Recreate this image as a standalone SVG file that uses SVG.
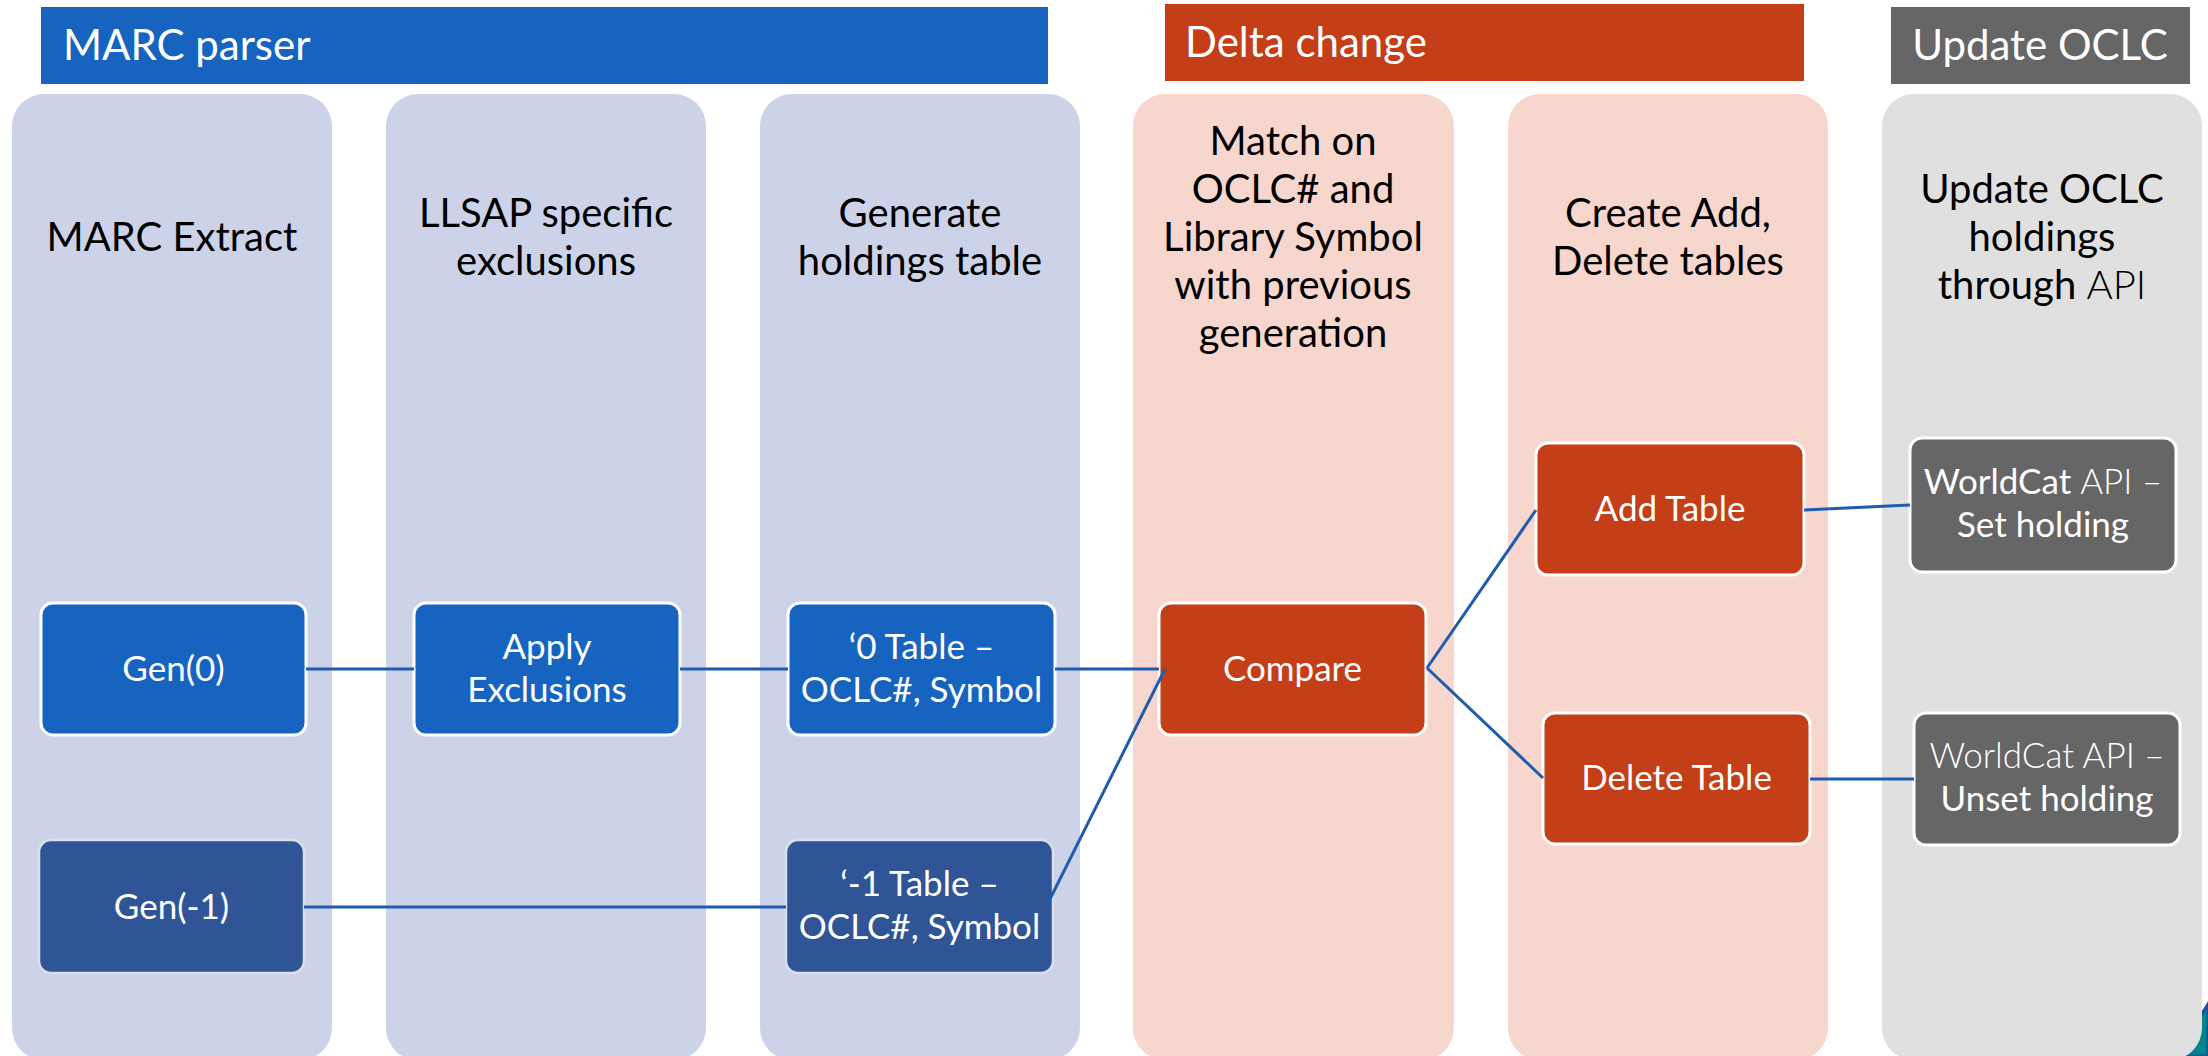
<svg xmlns="http://www.w3.org/2000/svg" width="2208" height="1056" viewBox="0 0 2208 1056">
<style>
.hdr{font-family:Lato,"Open Sans","Liberation Sans",sans-serif;font-size:42px;fill:#fff}
.ct{font-family:Lato,"Open Sans","Liberation Sans",sans-serif;font-size:40px;fill:#000;text-anchor:middle}
.nt{font-family:Lato,"Open Sans","Liberation Sans",sans-serif;font-size:35px;fill:#fff;text-anchor:middle}
.lt{font-weight:300}
.colB{fill:#CCD3E8}
.colP{fill:#F7D6CD}
.colG{fill:#E0E0E0}
.nB{fill:#1764C0;stroke:#fff;stroke-width:3}
.nD{fill:#2F5597;stroke:#DADFEC;stroke-width:2.5}
.nO{fill:#C43E17;stroke:#fff;stroke-width:3}
.nG{fill:#666666;stroke:#fff;stroke-width:3}
.cn{stroke:#1F5BAE;stroke-width:3;fill:none}
</style>
<rect width="2208" height="1056" fill="#fff"/>
<!-- decoration -->
<path d="M2208,1004 Q2194,1028 2168,1056 L2208,1056 Z" fill="#00868B" stroke="#1F4E9A" stroke-width="3"/>
<!-- header bars -->
<g id="hdr-marc"><rect x="41" y="7" width="1007" height="77" fill="#1764C0"/><text class="hdr" x="63" y="60">MARC parser</text></g>
<g id="hdr-delta"><rect x="1165" y="4" width="639" height="77" fill="#C43E17"/><text class="hdr" x="1185" y="57">Delta change</text></g>
<g id="hdr-update"><rect x="1891" y="7" width="299" height="77" fill="#666666"/><text class="hdr" x="2040" y="60" text-anchor="middle">Update OCLC</text></g>
<!-- columns -->
<g id="col1"><rect class="colB" x="12" y="94" width="320" height="966" rx="32"/><text class="ct" x="172" y="251">MARC Extract</text></g>
<g id="col2"><rect class="colB" x="386" y="94" width="320" height="966" rx="32"/><text class="ct" x="546" y="227">LLSAP specific</text><text class="ct" x="546" y="275">exclusions</text></g>
<g id="col3"><rect class="colB" x="760" y="94" width="320" height="966" rx="32"/><text class="ct" x="920" y="227">Generate</text><text class="ct" x="920" y="275">holdings table</text></g>
<g id="col4"><rect class="colP" x="1133" y="94" width="321" height="966" rx="32"/><text class="ct" x="1293" y="155">Match on</text><text class="ct" x="1293" y="203">OCLC# and</text><text class="ct" x="1293" y="251">Library Symbol</text><text class="ct" x="1293" y="299">with previous</text><text class="ct" x="1293" y="347">generation</text></g>
<g id="col5"><rect class="colP" x="1508" y="94" width="320" height="966" rx="32"/><text class="ct" x="1668" y="227">Create Add,</text><text class="ct" x="1668" y="275">Delete tables</text></g>
<g id="col6"><rect class="colG" x="1882" y="94" width="320" height="966" rx="32"/><text class="ct" x="2042" y="203">Update OCLC</text><text class="ct" x="2042" y="251">holdings</text><text class="ct" x="2042" y="299">through <tspan class="lt">API</tspan></text></g>
<!-- nodes -->
<g id="gen0"><rect class="nB" x="41" y="603" width="265" height="132" rx="12"/><text class="nt" x="173.5" y="681">Gen(0)</text></g>
<g id="apply"><rect class="nB" x="414" y="603" width="266" height="132" rx="12"/><text class="nt" x="547" y="659">Apply</text><text class="nt" x="547" y="702">Exclusions</text></g>
<g id="table0"><rect class="nB" x="788" y="603" width="267" height="132" rx="12"/><text class="nt" x="921.5" y="659">‘0 Table –</text><text class="nt" x="921.5" y="702">OCLC#, Symbol</text></g>
<g id="genm1"><rect class="nD" x="39" y="840" width="265" height="133" rx="12"/><text class="nt" x="171.5" y="919">Gen(-1)</text></g>
<g id="tablem1"><rect class="nD" x="786" y="840" width="267" height="133" rx="12"/><text class="nt" x="919.5" y="896">‘-1 Table –</text><text class="nt" x="919.5" y="939">OCLC#, Symbol</text></g>
<g id="compare"><rect class="nO" x="1159" y="603" width="267" height="132" rx="12"/><text class="nt" x="1292.5" y="681">Compare</text></g>
<g id="addtable"><rect class="nO" x="1536" y="443" width="268" height="132" rx="12"/><text class="nt" x="1670" y="521">Add Table</text></g>
<g id="deltable"><rect class="nO" x="1543" y="713" width="267" height="131" rx="12"/><text class="nt" x="1676.5" y="790">Delete Table</text></g>
<g id="wcset"><rect class="nG" x="1910" y="438" width="266" height="134" rx="12"/><text class="nt" x="2043" y="494">WorldCat <tspan class="lt">API –</tspan></text><text class="nt" x="2043" y="537">Set holding</text></g>
<g id="wcunset"><rect class="nG" x="1914" y="713" width="266" height="132" rx="12"/><text class="nt" x="2047" y="768"><tspan class="lt">WorldCat API –</tspan></text><text class="nt" x="2047" y="811">Unset holding</text></g>
<!-- connectors -->
<g id="connectors">
<line class="cn" x1="306" y1="669" x2="414" y2="669"/>
<line class="cn" x1="680" y1="669" x2="788" y2="669"/>
<line class="cn" x1="1055" y1="669" x2="1159" y2="669"/>
<line class="cn" x1="304" y1="907" x2="786" y2="907"/>
<line class="cn" x1="1047" y1="905" x2="1165" y2="669" stroke-width="1.6"/>
<line class="cn" x1="1427" y1="668" x2="1536" y2="510"/>
<line class="cn" x1="1427" y1="668" x2="1543" y2="778"/>
<line class="cn" x1="1804" y1="510" x2="1910" y2="505"/>
<line class="cn" x1="1810" y1="779" x2="1914" y2="779"/>
</g>
</svg>
